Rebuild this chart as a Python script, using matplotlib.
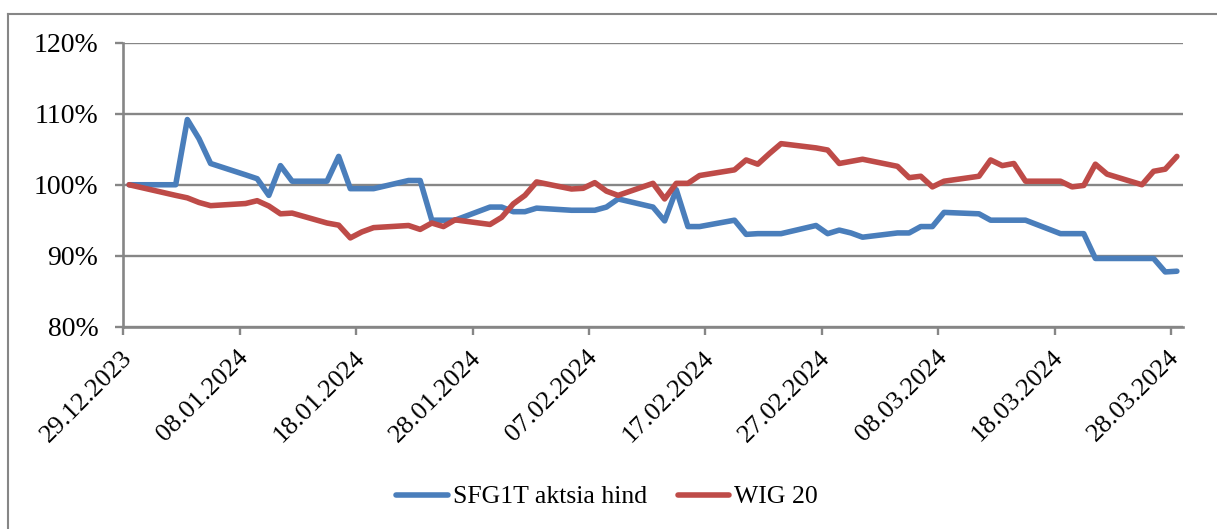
import matplotlib
matplotlib.use("Agg")
import matplotlib.pyplot as plt
import matplotlib.dates as mdates
import matplotlib.transforms as mtransforms
from matplotlib.lines import Line2D
import pandas as pd
import numpy as np

dates = ["2023-12-29",
         "2024-01-02", "2024-01-03", "2024-01-04", "2024-01-05",
         "2024-01-08", "2024-01-09", "2024-01-10", "2024-01-11", "2024-01-12",
         "2024-01-15", "2024-01-16", "2024-01-17", "2024-01-18", "2024-01-19",
         "2024-01-22", "2024-01-23", "2024-01-24", "2024-01-25", "2024-01-26",
         "2024-01-29", "2024-01-30", "2024-01-31", "2024-02-01", "2024-02-02",
         "2024-02-05", "2024-02-06", "2024-02-07", "2024-02-08", "2024-02-09",
         "2024-02-12", "2024-02-13", "2024-02-14", "2024-02-15", "2024-02-16",
         "2024-02-19", "2024-02-20", "2024-02-21", "2024-02-22", "2024-02-23",
         "2024-02-26", "2024-02-27", "2024-02-28", "2024-02-29", "2024-03-01",
         "2024-03-04", "2024-03-05", "2024-03-06", "2024-03-07", "2024-03-08",
         "2024-03-11", "2024-03-12", "2024-03-13", "2024-03-14", "2024-03-15",
         "2024-03-18", "2024-03-19", "2024-03-20", "2024-03-21", "2024-03-22",
         "2024-03-25", "2024-03-26", "2024-03-27", "2024-03-28"]

sfg1t = [100.0,
         100.0, 109.2, 106.5, 103.0,
         101.4, 100.85, 98.5, 102.7, 100.5,
         100.5, 104.0, 99.45, 99.45, 99.45,
         100.6, 100.6, 95.0, 95.0, 95.0,
         96.85, 96.85, 96.2, 96.2, 96.7,
         96.4, 96.4, 96.4, 96.85, 98.0,
         96.85, 94.9, 99.3, 94.1, 94.1,
         95.0, 93.0, 93.1, 93.1, 93.1,
         94.25, 93.1, 93.6, 93.2, 92.6,
         93.2, 93.2, 94.1, 94.1, 96.1,
         95.9, 95.0, 95.0, 95.0, 95.0,
         93.1, 93.1, 93.1, 89.6, 89.6,
         89.6, 89.6, 87.7, 87.8]

wig20 = [100.0,
         98.5, 98.15, 97.5, 97.05,
         97.35, 97.75, 97.0, 95.9, 96.0,
         94.6, 94.3, 92.5, 93.35, 93.95,
         94.25, 93.7, 94.6, 94.1, 95.05,
         94.4, 95.4, 97.3, 98.5, 100.4,
         99.4, 99.5, 100.3, 99.1, 98.5,
         100.2, 98.0, 100.2, 100.2, 101.3,
         102.1, 103.5, 102.9, 104.4, 105.8,
         105.2, 104.9, 103.0, 103.3, 103.6,
         102.6, 101.0, 101.2, 99.7, 100.5,
         101.2, 103.5, 102.7, 103.0, 100.5,
         100.5, 99.7, 99.9, 102.9, 101.5,
         100.0, 101.9, 102.2, 104.0]

series_names = ["SFG1T aktsia hind", "WIG 20"]
y_ticks = [80, 90, 100, 110, 120]
tick_start = "2023-12-29"
tick_end = "2024-03-29"

BLUE = "#4A7EBB"
RED = "#BE4B48"
GRID = "#868686"
FONT = "Liberation Serif"

W, H = 1217, 529
fig = plt.figure(figsize=(W / 100, H / 100), dpi=100)
ax = fig.add_axes([123.3 / W, 1 - 326.5 / H, (1182.7 - 123.3) / W, (326.5 - 43) / H])

x = pd.to_datetime(dates) + pd.Timedelta(hours=12)
LW = 4.0
ax.plot(x, sfg1t, color=BLUE, lw=LW, solid_joinstyle="round", solid_capstyle="round", zorder=3)
ax.plot(x, wig20, color=RED, lw=LW, solid_joinstyle="round", solid_capstyle="round", zorder=3)

x0 = pd.Timestamp(tick_start)
x1 = pd.Timestamp(tick_end)
ax.set_xlim(x0, x1)
ax.set_ylim(80, 120)

xt = pd.date_range(x0, pd.Timestamp("2024-03-28"), freq="10D")
ax.set_xticks(xt)
ax.xaxis.set_major_formatter(mdates.DateFormatter("%d.%m.%Y"))
ax.set_yticks(y_ticks)
ax.set_yticklabels([f"{v}%" for v in y_ticks])

ax.grid(axis="y", color=GRID, lw=1.7)
ax.set_axisbelow(True)
for s in ["top", "right"]:
    ax.spines[s].set_visible(False)
for s in ["left", "bottom"]:
    ax.spines[s].set_color(GRID)
    ax.spines[s].set_linewidth(1.9)

ax.tick_params(axis="y", length=6, width=1.7, color=GRID, pad=12, labelsize=20)
ax.tick_params(axis="x", length=6, width=1.7, color=GRID, pad=14, labelsize=19)
for lab in ax.get_yticklabels():
    lab.set_fontfamily(FONT)
offset = mtransforms.ScaledTranslation(5 / 100, 0, fig.dpi_scale_trans)
for lab in ax.get_xticklabels():
    lab.set_fontfamily(FONT)
    lab.set_rotation(45)
    lab.set_ha("right")
    lab.set_va("center")
    lab.set_rotation_mode("anchor")
    lab.set_transform(lab.get_transform() + offset)

handles = [Line2D([], [], color=BLUE, lw=LW, solid_capstyle="round"),
           Line2D([], [], color=RED, lw=LW, solid_capstyle="round")]
fig.legend(handles, series_names, loc="center", bbox_to_anchor=(0.499, 1 - 497 / H),
           ncol=2, frameon=False, prop={"family": FONT, "size": 18.5},
           handlelength=2.0, handletextpad=0.2, columnspacing=1.2)

# outer chart border (top and left visible)
fig.add_artist(Line2D([8 / W, 1.0], [1 - 14 / H, 1 - 14 / H], color=GRID, lw=1.5, transform=fig.transFigure))
fig.add_artist(Line2D([8 / W, 8 / W], [1 - 14 / H, 0.0], color=GRID, lw=1.5, transform=fig.transFigure))

fig.savefig("out.png", dpi=100)
